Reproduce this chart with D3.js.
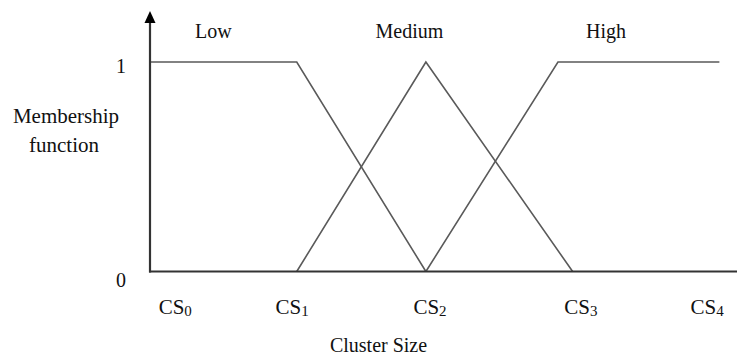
<!DOCTYPE html>
<html>
<head>
<meta charset="utf-8">
<script src="https://cdn.jsdelivr.net/npm/d3@7"></script>
<style>
  html, body { margin: 0; padding: 0; background: #fff; }
</style>
</head>
<body>
<svg id="chart" width="737" height="356"></svg>
<script>
/*************************Data********************* */
// membership function breakpoints, x in cluster-size units (0-100), y = degree
const lowPoints = [[0, 1], [25, 1], [47, 0]];
const mediumPoints = [[25, 0], [47, 1], [72, 0]];
const highPoints = [[47, 0], [69.5, 1], [97, 1]];
const setNames = ["Low", "Medium", "High"];
const setLabelX = [10.8, 44.2, 77.7];
const csBase = ["CS", "CS", "CS", "CS", "CS"];
const csSub = ["0", "1", "2", "3", "4"];
const csTickX = [4.3, 24.2, 47.7, 73.4, 94.9];
const yTicks = [0, 1];

/*************************Scales********************* */
const width = 737;
const height = 356;
const serif = "'Liberation Serif', 'Times New Roman', serif";
const svg = d3.select("svg#chart");

const scaleX = d3.scaleLinear().domain([0, 100]).range([150, 737]);
const scaleY = d3.scaleLinear().domain([0, 1]).range([271.5, 62]);

/*************************Membership lines********************* */
const line = d3.line().x((d) => scaleX(d[0])).y((d) => scaleY(d[1]));
svg.append("g")
  .attr("class", "sets")
  .selectAll("path")
  .data([lowPoints, mediumPoints, highPoints])
  .join("path")
  .attr("d", line)
  .attr("fill", "none")
  .attr("stroke", "#5a5a5a")
  .attr("stroke-width", 1.6);

/*************************Axes********************* */
const axes = svg.append("g").attr("class", "axes");
// x axis runs off the right edge
axes.append("line")
  .attr("x1", scaleX(0) - 1).attr("x2", width)
  .attr("y1", scaleY(0)).attr("y2", scaleY(0))
  .attr("stroke", "#333").attr("stroke-width", 2.2);
// y axis with arrow head
axes.append("line")
  .attr("x1", scaleX(0)).attr("x2", scaleX(0))
  .attr("y1", scaleY(0) + 1).attr("y2", 20)
  .attr("stroke", "#333").attr("stroke-width", 2.2);
axes.append("path")
  .attr("d", `M${scaleX(0) - 5.5},23 L${scaleX(0)},11 L${scaleX(0) + 5.5},23 Z`)
  .attr("fill", "#000");

// y tick labels
axes.selectAll("text.ytick")
  .data(yTicks)
  .join("text")
  .attr("class", "ytick")
  .attr("x", 121)
  .attr("y", (d) => scaleY(d) + (d === 0 ? 15.5 : 11))
  .attr("text-anchor", "middle")
  .attr("fill", "#111")
  .style("font-family", serif)
  .style("font-size", "20px")
  .text((d) => d);

// x tick labels with subscripts
const xt = axes.selectAll("text.xtick")
  .data(csBase)
  .join("text")
  .attr("class", "xtick")
  .attr("x", (_, i) => scaleX(csTickX[i]))
  .attr("y", 314)
  .attr("text-anchor", "middle")
  .attr("fill", "#111")
  .style("font-family", serif)
  .style("font-size", "21px");
xt.append("tspan").text((d) => d);
xt.append("tspan")
  .attr("dy", 2)
  .style("font-size", "15px")
  .text((_, i) => csSub[i]);

/*************************Labels********************* */
svg.append("g")
  .selectAll("text")
  .data(setNames)
  .join("text")
  .attr("x", (_, i) => scaleX(setLabelX[i]))
  .attr("y", scaleY(1) - 24)
  .attr("text-anchor", "middle")
  .attr("fill", "#111")
  .style("font-family", serif)
  .style("font-size", "20px")
  .text((d) => d);

svg.append("text")
  .attr("x", 66).attr("y", 123)
  .attr("text-anchor", "middle")
  .attr("fill", "#111")
  .style("font-family", serif)
  .style("font-size", "21px")
  .text("Membership");
svg.append("text")
  .attr("x", 64).attr("y", 152)
  .attr("text-anchor", "middle")
  .attr("fill", "#111")
  .style("font-family", serif)
  .style("font-size", "21px")
  .text("function");

svg.append("text")
  .attr("x", 378.5).attr("y", 352)
  .attr("text-anchor", "middle")
  .attr("fill", "#111")
  .style("font-family", serif)
  .style("font-size", "20px")
  .text("Cluster Size");
</script>
</body>
</html>
